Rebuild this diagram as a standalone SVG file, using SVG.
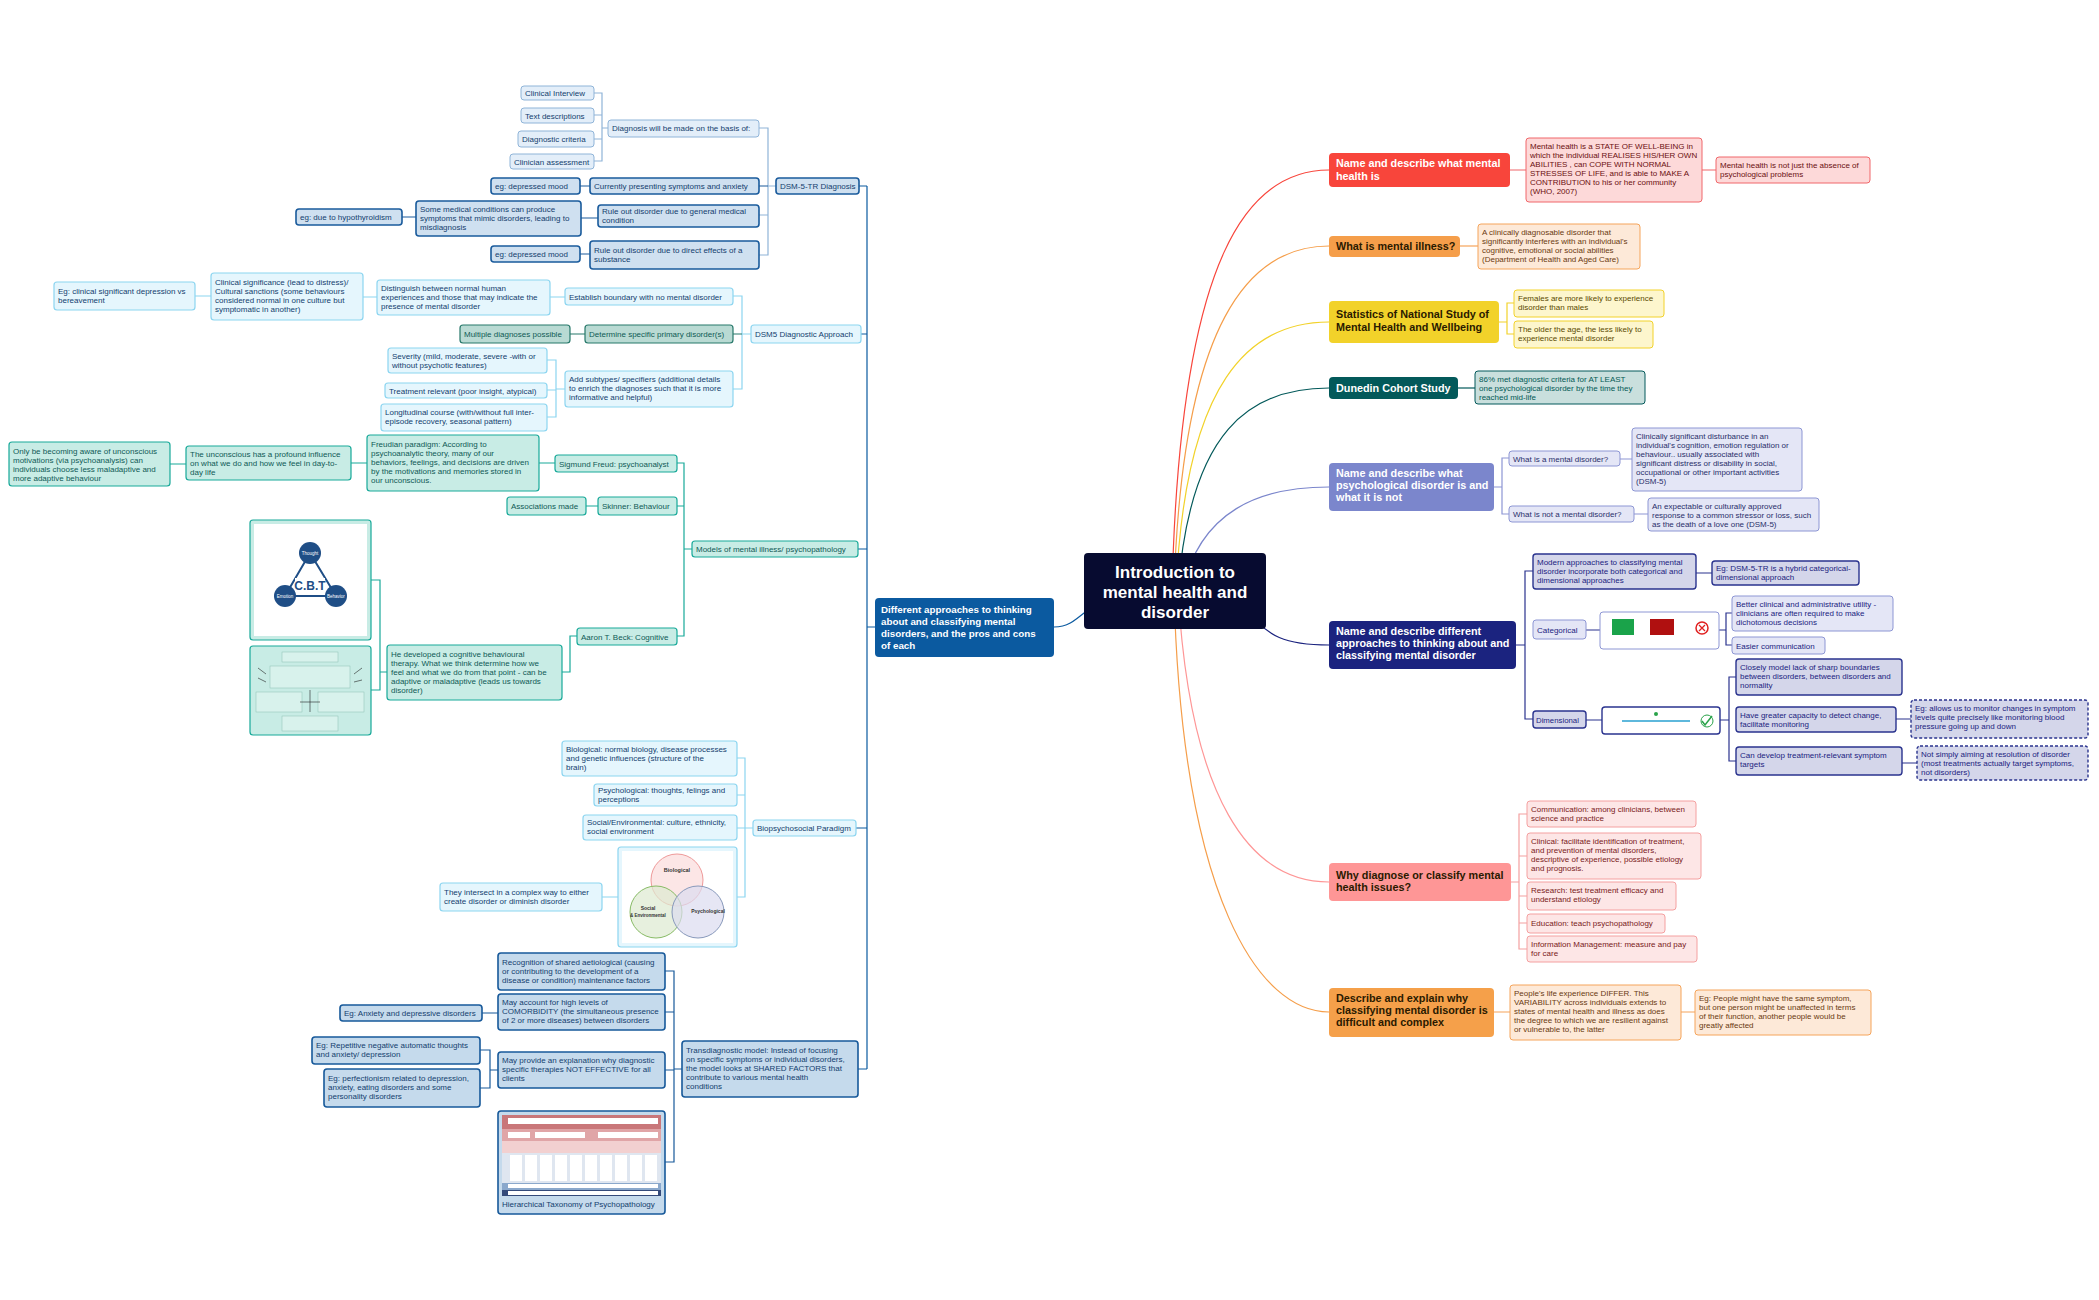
<svg xmlns="http://www.w3.org/2000/svg" width="2099" height="1300" viewBox="0 0 2099 1300">
<style>
text{font-family:"Liberation Sans",Arial,sans-serif;font-size:8px}
.c{fill:none;stroke-width:1.2}
.b1{fill:#cfe0f0;stroke:#1a5b9c;stroke-width:1.6}
.b2{fill:#e3eef9;stroke:#8fb4d8;stroke-width:1}
.tb{fill:#133e6e}
.cy{fill:#e5f6fd;stroke:#8cd5f0;stroke-width:1.2}
.gt{fill:#b9dad3;stroke:#27786a;stroke-width:1.2}
.tt{fill:#0f5a55}
.te{fill:#c8ece5;stroke:#18a999;stroke-width:1.2}
.tr{fill:#c5daec;stroke:#17599a;stroke-width:1.6}
.mainw{font-size:10.8px;font-weight:bold;fill:#fff}
.maind{font-size:10.8px;font-weight:bold;fill:#2a1a00}
.rc{fill:#fdd9d9;stroke:#f0676a}
.oc{fill:#fde9d8;stroke:#f5a45a}
.yc{fill:#fdf6cd;stroke:#f2d22a}
.dc{fill:#c9dfdd;stroke:#03595a}
.pc{fill:#e4e6f6;stroke:#8d96d4}
.nc{fill:#d4d6ea;stroke:#2a338e;stroke-width:1.4}
.nd{fill:#d4d6ea;stroke:#2a338e;stroke-width:1.4;stroke-dasharray:3 2}
.kc{fill:#fde6e6;stroke:#f4a0a0}
</style>
<rect width="2099" height="1300" fill="#fff"/>
<g id="connectors">
<path class="c" stroke="#f8453b" stroke-width="1.6" d="M1172,591 C1180,250 1250,170 1329,170"/>
<path class="c" stroke="#f59e4a" stroke-width="1.6" d="M1174,591 C1182,320 1250,246 1329,246"/>
<path class="c" stroke="#f2d22a" stroke-width="1.6" d="M1176,591 C1185,380 1250,322 1329,322"/>
<path class="c" stroke="#03595a" stroke-width="1.6" d="M1178,591 C1190,430 1250,388 1329,388"/>
<path class="c" stroke="#7b86cc" stroke-width="1.6" d="M1182,591 C1200,510 1260,487 1329,487"/>
<path class="c" stroke="#1b237f" stroke-width="1.8" d="M1240,600 C1265,640 1290,645 1329,645"/>
<path class="c" stroke="#fe9696" stroke-width="1.6" d="M1178,591 C1190,800 1250,882 1329,882"/>
<path class="c" stroke="#f59e4a" stroke-width="1.6" d="M1174,591 C1182,900 1260,1012 1329,1012"/>
<path class="c" stroke="#0b5aa0" stroke-width="1.8" d="M1100,600 C1075,620 1070,627 1054,627"/>
<path class="c" stroke="#f0676a" d="M1510,170 H1526 M1700,170 H1716"/>
<path class="c" stroke="#f5a45a" d="M1460,246 H1478"/>
<path class="c" stroke="#f2d22a" d="M1499,322 H1507 M1514,303 H1507 V334 H1514"/>
<path class="c" stroke="#03595a" d="M1458,388 H1475"/>
<path class="c" stroke="#8d96d4" d="M1494,487 H1502 M1509,458 H1502 V514 H1509 M1620,459 H1632 M1634,514 H1648"/>
<path class="c" stroke="#2a338e" d="M1516,645 H1525 M1533,571 H1525 V719 H1533 M1696,573 H1712 M1586,630 H1600 M1719,630 H1726 M1732,613 H1726 V645 H1732 M1586,720 H1602 M1720,720 H1729 M1736,677 H1729 V761 H1736 M1896,719 H1911 M1902,763 H1917"/>
<path class="c" stroke="#f4a0a0" d="M1511,882 H1519 M1527,814 H1519 V949 H1527 M1519,856 H1527 M1519,896 H1527 M1519,923 H1527"/>
<path class="c" stroke="#f5a45a" d="M1494,1012 H1510 M1681,1012 H1695"/>
<path class="c" stroke="#0b5aa0" stroke-width="1.4" d="M867,186 V1069 M859,186 H867 M861,334 H867 M858,549 H867 M856,828 H867 M858,1069 H867 M875,627 H867"/>
<path class="c" stroke="#8fb4d8" d="M776,186 H768 M759,128 H768 V255 H759 M759,215 H768 M608,128 H602 M594,93 H602 V161 H594 M594,115 H602 M594,139 H602"/>
<path class="c" stroke="#1a5b9c" d="M580,186 H590 M581,218 H598 M402,217 H416 M580,254 H590 M759,186 H768"/>
<path class="c" stroke="#8cd5f0" d="M751,334 H742 M733,296 H742 V389 H733 M550,297 H565 M363,297 H377 M195,296 H211 M565,389 H556 M547,360 H556 V417 H547 M547,390 H556"/>
<path class="c" stroke="#27786a" d="M733,334 H742 M570,334 H585"/>
<path class="c" stroke="#18a999" d="M692,549 H684 M677,463 H684 V636 H677 M677,506 H684 M539,463 H555 M351,463 H367 M170,464 H186 M586,506 H598 M577,636 H570 V672 H562 M387,672 H380 M371,580 H380 V690 H371"/>
<path class="c" stroke="#8cd5f0" d="M753,828 H745 M737,758 H745 V897 H737 M737,795 H745 M737,828 H745 M602,897 H618"/>
<path class="c" stroke="#17599a" d="M682,1069 H674 M665,971 H674 V1162 H665 M665,1012 H674 M665,1070 H674 M482,1013 H498 M498,1070 H490 M480,1050 H490 V1088 H480"/>
</g>

<g id="central"><rect x="1084" y="553" width="182" height="76" rx="4" fill="#070b30"/>
<text x="1175" text-anchor="middle" font-weight="bold" fill="#fff" style="font-size:17px"><tspan x="1175" y="578">Introduction to</tspan><tspan x="1175" y="598">mental health and</tspan><tspan x="1175" y="618">disorder</tspan></text></g>

<g id="n_diffapp"><rect x="875" y="598" width="179" height="59" rx="4" fill="#0b5aa0"/>
<text class="mainw" style="font-size:9.8px"><tspan x="881" y="613">Different approaches to thinking</tspan><tspan x="881" y="625">about and classifying mental</tspan><tspan x="881" y="637">disorders, and the pros and cons</tspan><tspan x="881" y="649">of each</tspan></text></g>

<g id="n_dsmtr"><rect class="b1" x="776" y="178" width="83" height="16" rx="3"/><text class="tb" x="780" y="189">DSM-5-TR Diagnosis</text></g>
<g id="n_basis"><rect class="b2" x="608" y="120" width="151" height="17" rx="3"/><text class="tb" x="612" y="131">Diagnosis will be made on the basis of:</text></g>
<g id="n_ci"><rect class="b2" x="521" y="86" width="73" height="14" rx="3"/><text class="tb" x="525" y="96">Clinical Interview</text></g>
<g id="n_td"><rect class="b2" x="521" y="108" width="73" height="15" rx="3"/><text class="tb" x="525" y="118.5">Text descriptions</text></g>
<g id="n_dc"><rect class="b2" x="518" y="131" width="76" height="16" rx="3"/><text class="tb" x="522" y="142">Diagnostic criteria</text></g>
<g id="n_ca"><rect class="b2" x="510" y="154" width="84" height="15" rx="3"/><text class="tb" x="514" y="164.5">Clinician assessment</text></g>
<g id="n_curr"><rect class="b1" x="590" y="178" width="169" height="16" rx="3"/><text class="tb" x="594" y="189">Currently presenting symptoms and anxiety</text></g>
<g id="n_dep1"><rect class="b1" x="491" y="178" width="89" height="16" rx="3"/><text class="tb" x="495" y="189">eg: depressed mood</text></g>
<g id="n_rgen"><rect class="b1" x="598" y="205" width="161" height="22" rx="3"/><text class="tb"><tspan x="602" y="214">Rule out disorder due to general medical</tspan><tspan x="602" y="223">condition</tspan></text></g>
<g id="n_some"><rect class="b1" x="416" y="201" width="165" height="35" rx="3"/><text class="tb"><tspan x="420" y="212">Some medical conditions can produce</tspan><tspan x="420" y="221">symptoms that mimic disorders, leading to</tspan><tspan x="420" y="230">misdiagnosis</tspan></text></g>
<g id="n_hypo"><rect class="b1" x="296" y="209" width="106" height="16" rx="3"/><text class="tb" x="300" y="220">eg: due to hypothyroidism</text></g>
<g id="n_rdir"><rect class="b1" x="590" y="241" width="169" height="28" rx="3"/><text class="tb"><tspan x="594" y="253">Rule out disorder due to direct effects of a</tspan><tspan x="594" y="262">substance</tspan></text></g>
<g id="n_dep2"><rect class="b1" x="491" y="246" width="89" height="16" rx="3"/><text class="tb" x="495" y="257">eg: depressed mood</text></g>

<g id="n_dsm5"><rect class="cy" x="751" y="325" width="110" height="18" rx="3"/><text class="tb" x="755" y="337">DSM5 Diagnostic Approach</text></g>
<g id="n_estab"><rect class="cy" x="565" y="288" width="168" height="17" rx="3"/><text class="tb" x="569" y="299.5">Establish boundary with no mental disorder</text></g>
<g id="n_dist"><rect class="cy" x="377" y="280" width="173" height="35" rx="3"/><text class="tb"><tspan x="381" y="291">Distinguish between normal human</tspan><tspan x="381" y="300">experiences and those that may indicate the</tspan><tspan x="381" y="309">presence of mental disorder</tspan></text></g>
<g id="n_clinsig"><rect class="cy" x="211" y="273" width="152" height="47" rx="3"/><text class="tb"><tspan x="215" y="285">Clinical significance (lead to distress)/</tspan><tspan x="215" y="294">Cultural sanctions (some behaviours</tspan><tspan x="215" y="303">considered normal in one culture but</tspan><tspan x="215" y="312">symptomatic in another)</tspan></text></g>
<g id="n_egclin"><rect class="cy" x="54" y="282" width="141" height="28" rx="3"/><text class="tb"><tspan x="58" y="294">Eg: clinical significant depression vs</tspan><tspan x="58" y="303">bereavement</tspan></text></g>
<g id="n_determine"><rect class="gt" x="585" y="325" width="148" height="18" rx="3"/><text class="tt" x="589" y="337">Determine specific primary disorder(s)</text></g>
<g id="n_multi"><rect class="gt" x="460" y="325" width="110" height="18" rx="3"/><text class="tt" x="464" y="337">Multiple diagnoses possible</text></g>
<g id="n_addsub"><rect class="cy" x="565" y="371" width="168" height="36" rx="3"/><text class="tb"><tspan x="569" y="382">Add subtypes/ specifiers (additional details</tspan><tspan x="569" y="391">to enrich the diagnoses such that it is more</tspan><tspan x="569" y="400">informative and helpful)</tspan></text></g>
<g id="n_sev"><rect class="cy" x="388" y="348" width="159" height="25" rx="3"/><text class="tb"><tspan x="392" y="359">Severity (mild, moderate, severe -with or</tspan><tspan x="392" y="368">without psychotic features)</tspan></text></g>
<g id="n_treat"><rect class="cy" x="385" y="383" width="162" height="15" rx="3"/><text class="tb" x="389" y="393.5">Treatment relevant (poor insight, atypical)</text></g>
<g id="n_long"><rect class="cy" x="381" y="404" width="166" height="27" rx="3"/><text class="tb"><tspan x="385" y="415">Longitudinal course (with/without full inter-</tspan><tspan x="385" y="424">episode recovery, seasonal pattern)</tspan></text></g>

<g id="n_models"><rect class="te" x="692" y="541" width="166" height="16" rx="3" stroke-width="2"/><text class="tt" x="696" y="552">Models of mental illness/ psychopathology</text></g>
<g id="n_freud"><rect class="te" x="555" y="455" width="122" height="17" rx="3"/><text class="tt" x="559" y="466.5">Sigmund Freud: psychoanalyst</text></g>
<g id="n_freudp"><rect class="te" x="367" y="435" width="172" height="56" rx="3"/><text class="tt"><tspan x="371" y="447">Freudian paradigm: According to</tspan><tspan x="371" y="456">psychoanalytic theory, many of our</tspan><tspan x="371" y="465">behaviors, feelings, and decisions are driven</tspan><tspan x="371" y="474">by the motivations and memories stored in</tspan><tspan x="371" y="483">our unconscious.</tspan></text></g>
<g id="n_uncon"><rect class="te" x="186" y="446" width="165" height="34" rx="3"/><text class="tt"><tspan x="190" y="457">The unconscious has a profound influence</tspan><tspan x="190" y="466">on what we do and how we feel in day-to-</tspan><tspan x="190" y="475">day life</tspan></text></g>
<g id="n_only"><rect class="te" x="9" y="442" width="161" height="44" rx="3"/><text class="tt"><tspan x="13" y="454">Only be becoming aware of unconscious</tspan><tspan x="13" y="463">motivations (via psychoanalysis) can</tspan><tspan x="13" y="472">individuals choose less maladaptive and</tspan><tspan x="13" y="481">more adaptive behaviour</tspan></text></g>
<g id="n_skinner"><rect class="te" x="598" y="497" width="79" height="18" rx="3"/><text class="tt" x="602" y="509">Skinner: Behaviour</text></g>
<g id="n_assoc"><rect class="te" x="507" y="497" width="79" height="18" rx="3"/><text class="tt" x="511" y="509">Associations made</text></g>
<g id="n_beck"><rect class="te" x="577" y="628" width="100" height="17" rx="3"/><text class="tt" x="581" y="640">Aaron T. Beck: Cognitive</text></g>
<g id="n_hedev"><rect class="te" x="387" y="645" width="175" height="55" rx="3"/><text class="tt"><tspan x="391" y="657">He developed a cognitive behavioural</tspan><tspan x="391" y="666">therapy. What we think determine how we</tspan><tspan x="391" y="675">feel and what we do from that point - can be</tspan><tspan x="391" y="684">adaptive or maladaptive (leads us towards</tspan><tspan x="391" y="693">disorder)</tspan></text></g>
<g id="n_cbtimg"><rect class="te" x="250" y="520" width="121" height="120" rx="3"/><rect x="254" y="524" width="113" height="112" fill="#fff"/>
<path d="M310,553 L285,596 L336,596 Z" fill="none" stroke="#1f4e86" stroke-width="2"/>
<circle cx="310" cy="553" r="11" fill="#1f4e86"/><circle cx="285" cy="596" r="11" fill="#1f4e86"/><circle cx="336" cy="596" r="11" fill="#1f4e86"/>
<rect x="295" y="578" width="30" height="14" fill="#fff"/>
<text x="310" y="590" text-anchor="middle" style="font-size:12px;font-weight:bold;fill:#1f4e86">C.B.T</text>
<text x="310" y="555" text-anchor="middle" style="font-size:4.5px;fill:#fff">Thought</text>
<text x="285" y="598" text-anchor="middle" style="font-size:4.5px;fill:#fff">Emotion</text>
<text x="336" y="598" text-anchor="middle" style="font-size:4.5px;fill:#fff">Behavior</text></g>
<g id="n_abcimg"><rect class="te" x="250" y="646" width="121" height="89" rx="3"/>
<rect x="282" y="652" width="56" height="10" fill="#d8f2ec" stroke="#8bbfb5" stroke-width="0.5"/>
<rect x="270" y="666" width="80" height="22" fill="#d8f2ec" stroke="#8bbfb5" stroke-width="0.5"/>
<rect x="256" y="692" width="46" height="20" fill="#d8f2ec" stroke="#8bbfb5" stroke-width="0.5"/>
<rect x="318" y="692" width="46" height="20" fill="#d8f2ec" stroke="#8bbfb5" stroke-width="0.5"/>
<rect x="282" y="716" width="56" height="15" fill="#d8f2ec" stroke="#8bbfb5" stroke-width="0.5"/>
<path d="M258,668 l8,6 M258,678 l8,4 M362,668 l-8,6 M362,680 l-8,2 M310,690 v22 M300,702 h20" stroke="#222" stroke-width="0.6" fill="none"/></g>

<g id="n_bps"><rect class="cy" x="753" y="820" width="103" height="16" rx="3"/><text class="tb" x="757" y="831">Biopsychosocial Paradigm</text></g>
<g id="n_bio"><rect class="cy" x="562" y="741" width="175" height="35" rx="3"/><text class="tb"><tspan x="566" y="752">Biological: normal biology, disease processes</tspan><tspan x="566" y="761">and genetic influences (structure of the</tspan><tspan x="566" y="770">brain)</tspan></text></g>
<g id="n_psy"><rect class="cy" x="594" y="784" width="143" height="22" rx="3"/><text class="tb"><tspan x="598" y="793">Psychological: thoughts, felings and</tspan><tspan x="598" y="802">perceptions</tspan></text></g>
<g id="n_soc"><rect class="cy" x="583" y="815" width="154" height="25" rx="3"/><text class="tb"><tspan x="587" y="825">Social/Environmental: culture, ethnicity,</tspan><tspan x="587" y="834">social environment</tspan></text></g>
<g id="n_venn"><rect class="cy" x="618" y="847" width="119" height="100" rx="3"/><rect x="622" y="851" width="111" height="92" fill="#fff"/>
<circle cx="677" cy="880" r="26" fill="#fbdcdc" fill-opacity="0.7" stroke="#e99"/>
<circle cx="656" cy="912" r="26" fill="#dde9d0" fill-opacity="0.7" stroke="#8b6"/>
<circle cx="698" cy="912" r="26" fill="#dbdcf0" fill-opacity="0.7" stroke="#89b"/>
<text x="677" y="872" text-anchor="middle" style="font-size:5.5px;font-weight:bold;fill:#333">Biological</text>
<text x="648" y="910" text-anchor="middle" style="font-size:5px;font-weight:bold;fill:#333">Social</text>
<text x="648" y="917" text-anchor="middle" style="font-size:4.5px;font-weight:bold;fill:#333">&amp; Environmental</text>
<text x="708" y="913" text-anchor="middle" style="font-size:5px;font-weight:bold;fill:#333">Psychological</text></g>
<g id="n_inter"><rect class="cy" x="440" y="883" width="162" height="28" rx="3"/><text class="tb"><tspan x="444" y="895">They intersect in a complex way to either</tspan><tspan x="444" y="904">create disorder or diminish disorder</tspan></text></g>

<g id="n_trans"><rect class="tr" x="682" y="1041" width="176" height="56" rx="3"/><text class="tb"><tspan x="686" y="1053">Transdiagnostic model: Instead of focusing</tspan><tspan x="686" y="1062">on specific symptoms or individual disorders,</tspan><tspan x="686" y="1071">the model looks at SHARED FACTORS that</tspan><tspan x="686" y="1080">contribute to various mental health</tspan><tspan x="686" y="1089">conditions</tspan></text></g>
<g id="n_recog"><rect class="tr" x="498" y="953" width="167" height="37" rx="3" stroke-width="1.2"/><text class="tb"><tspan x="502" y="965">Recognition of shared aetiological (causing</tspan><tspan x="502" y="974">or contributing to the development of a</tspan><tspan x="502" y="983">disease or condition) maintenance factors</tspan></text></g>
<g id="n_comor"><rect class="tr" x="498" y="994" width="167" height="36" rx="3" stroke-width="1.2"/><text class="tb"><tspan x="502" y="1005">May account for high levels of</tspan><tspan x="502" y="1014">COMORBIDITY (the simultaneous presence</tspan><tspan x="502" y="1023">of 2 or more diseases) between disorders</tspan></text></g>
<g id="n_anx"><rect class="tr" x="340" y="1005" width="142" height="16" rx="3" stroke-width="1.2"/><text class="tb" x="344" y="1016">Eg: Anxiety and depressive disorders</text></g>
<g id="n_expl"><rect class="tr" x="498" y="1052" width="167" height="36" rx="3" stroke-width="1.2"/><text class="tb"><tspan x="502" y="1063">May provide an explanation why diagnostic</tspan><tspan x="502" y="1072">specific therapies NOT EFFECTIVE for all</tspan><tspan x="502" y="1081">clients</tspan></text></g>
<g id="n_rep"><rect class="tr" x="312" y="1037" width="168" height="27" rx="3" stroke-width="1.2"/><text class="tb"><tspan x="316" y="1048">Eg: Repetitive negative automatic thoughts</tspan><tspan x="316" y="1057">and anxiety/ depression</tspan></text></g>
<g id="n_perf"><rect class="tr" x="324" y="1069" width="156" height="38" rx="3" stroke-width="1.2"/><text class="tb"><tspan x="328" y="1081">Eg: perfectionism related to depression,</tspan><tspan x="328" y="1090">anxiety, eating disorders and some</tspan><tspan x="328" y="1099">personality disorders</tspan></text></g>
<g id="n_hitop"><rect class="tr" x="498" y="1111" width="167" height="103" rx="3" stroke-width="1.2"/>
<rect x="502" y="1115" width="159" height="14" fill="#c9777a"/><rect x="502" y="1129" width="159" height="12" fill="#e0a5a7"/><rect x="502" y="1141" width="159" height="12" fill="#f2d0d0"/><rect x="502" y="1153" width="159" height="30" fill="#dfe6f0"/><rect x="502" y="1183" width="159" height="7" fill="#8aa8cc"/><rect x="502" y="1190" width="159" height="6" fill="#344a7a"/>
<rect x="508" y="1118" width="150" height="6" fill="#fff"/><rect x="508" y="1132" width="22" height="6" fill="#fff"/><rect x="535" y="1132" width="50" height="6" fill="#fff"/><rect x="598" y="1132" width="60" height="6" fill="#fff"/>
<g fill="#fff"><rect x="510" y="1155" width="12" height="26"/><rect x="525" y="1155" width="12" height="26"/><rect x="540" y="1155" width="12" height="26"/><rect x="555" y="1155" width="12" height="26"/><rect x="570" y="1155" width="12" height="26"/><rect x="585" y="1155" width="12" height="26"/><rect x="600" y="1155" width="12" height="26"/><rect x="615" y="1155" width="12" height="26"/><rect x="630" y="1155" width="12" height="26"/><rect x="645" y="1155" width="12" height="26"/><rect x="508" y="1184" width="150" height="4"/><rect x="508" y="1191" width="150" height="4"/></g>
<text class="tb" x="502" y="1207">Hierarchical Taxonomy of Psychopathology</text></g>

<g id="n_mh"><rect x="1329" y="153" width="181" height="34" rx="4" fill="#f8453b"/><text class="mainw"><tspan x="1336" y="167">Name and describe what mental</tspan><tspan x="1336" y="180">health is</tspan></text></g>
<g id="n_mh1"><rect class="rc" x="1526" y="138" width="176" height="64" rx="3"/><text fill="#6b1010"><tspan x="1530" y="149">Mental health is a STATE OF WELL-BEING in</tspan><tspan x="1530" y="158">which the individual REALISES HIS/HER OWN</tspan><tspan x="1530" y="167">ABILITIES , can COPE WITH NORMAL</tspan><tspan x="1530" y="176">STRESSES OF LIFE, and is able to MAKE A</tspan><tspan x="1530" y="185">CONTRIBUTION to his or her community</tspan><tspan x="1530" y="194">(WHO, 2007)</tspan></text></g>
<g id="n_mh2"><rect class="rc" x="1716" y="157" width="154" height="26" rx="3"/><text fill="#6b1010"><tspan x="1720" y="168">Mental health is not just the absence of</tspan><tspan x="1720" y="177">psychological problems</tspan></text></g>
<g id="n_mi"><rect x="1329" y="236" width="131" height="21" rx="4" fill="#f59e4a"/><text class="maind" x="1336" y="250">What is mental illness?</text></g>
<g id="n_mi1"><rect class="oc" x="1478" y="224" width="162" height="45" rx="3"/><text fill="#6a3a10"><tspan x="1482" y="235">A clinically diagnosable disorder that</tspan><tspan x="1482" y="244">significantly interferes with an individual's</tspan><tspan x="1482" y="253">cognitive, emotional or social abilities</tspan><tspan x="1482" y="262">(Department of Health and Aged Care)</tspan></text></g>
<g id="n_stat"><rect x="1329" y="301" width="170" height="42" rx="4" fill="#f2d22a"/><text class="maind"><tspan x="1336" y="318">Statistics of National Study of</tspan><tspan x="1336" y="331">Mental Health and Wellbeing</tspan></text></g>
<g id="n_stat1"><rect class="yc" x="1514" y="290" width="150" height="27" rx="3"/><text fill="#5a4a00"><tspan x="1518" y="301">Females are more likely to experience</tspan><tspan x="1518" y="310">disorder than males</tspan></text></g>
<g id="n_stat2"><rect class="yc" x="1514" y="321" width="139" height="27" rx="3"/><text fill="#5a4a00"><tspan x="1518" y="332">The older the age, the less likely to</tspan><tspan x="1518" y="341">experience mental disorder</tspan></text></g>
<g id="n_dun"><rect x="1329" y="377" width="129" height="22" rx="4" fill="#03595a"/><text class="mainw" x="1336" y="392">Dunedin Cohort Study</text></g>
<g id="n_dun1"><rect class="dc" x="1475" y="371" width="170" height="33" rx="3"/><text fill="#035a55"><tspan x="1479" y="382">86% met diagnostic criteria for AT LEAST</tspan><tspan x="1479" y="391">one psychological disorder by the time they</tspan><tspan x="1479" y="400">reached mid-life</tspan></text></g>
<g id="n_pd"><rect x="1329" y="463" width="165" height="48" rx="4" fill="#7b86cc"/><text class="mainw"><tspan x="1336" y="477">Name and describe what</tspan><tspan x="1336" y="489">psychological disorder is and</tspan><tspan x="1336" y="501">what it is not</tspan></text></g>
<g id="n_pd1"><rect class="pc" x="1509" y="451" width="111" height="15" rx="3"/><text fill="#2a2f6a" x="1513" y="461.5">What is a mental disorder?</text></g>
<g id="n_pd1a"><rect class="pc" x="1632" y="428" width="170" height="63" rx="3"/><text fill="#2a2f6a"><tspan x="1636" y="439">Clinically significant disturbance in an</tspan><tspan x="1636" y="448">individual's cognition, emotion regulation or</tspan><tspan x="1636" y="457">behaviour.. usually associated with</tspan><tspan x="1636" y="466">significant distress or disability in social,</tspan><tspan x="1636" y="475">occupational or other important activities</tspan><tspan x="1636" y="484">(DSM-5)</tspan></text></g>
<g id="n_pd2"><rect class="pc" x="1509" y="506" width="125" height="16" rx="3"/><text fill="#2a2f6a" x="1513" y="517">What is not a mental disorder?</text></g>
<g id="n_pd2a"><rect class="pc" x="1648" y="498" width="171" height="33" rx="3"/><text fill="#2a2f6a"><tspan x="1652" y="509">An expectable or culturally approved</tspan><tspan x="1652" y="518">response to a common stressor or loss, such</tspan><tspan x="1652" y="527">as the death of a love one (DSM-5)</tspan></text></g>
<g id="n_ap"><rect x="1329" y="621" width="187" height="48" rx="4" fill="#1b237f"/><text class="mainw"><tspan x="1336" y="635">Name and describe different</tspan><tspan x="1336" y="647">approaches to thinking about and</tspan><tspan x="1336" y="659">classifying mental disorder</tspan></text></g>
<g id="n_modern"><rect class="nc" x="1533" y="554" width="163" height="35" rx="3"/><text fill="#1b237f"><tspan x="1537" y="565">Modern approaches to classifying mental</tspan><tspan x="1537" y="574">disorder incorporate both categorical and</tspan><tspan x="1537" y="583">dimensional approaches</tspan></text></g>
<g id="n_egdsm"><rect class="nc" x="1712" y="561" width="147" height="24" rx="3"/><text fill="#1b237f"><tspan x="1716" y="571">Eg: DSM-5-TR is a hybrid categorical-</tspan><tspan x="1716" y="580">dimensional approach</tspan></text></g>
<g id="n_cat"><rect class="pc" x="1533" y="620" width="53" height="19" rx="3"/><text fill="#1b237f" x="1537" y="632.5">Categorical</text></g>
<g id="n_catimg"><rect x="1600" y="612" width="119" height="37" rx="3" fill="#fff" stroke="#8d96d4"/><rect x="1612" y="619" width="22" height="16" fill="#1aa34a"/><rect x="1650" y="619" width="24" height="16" fill="#b01010"/><circle cx="1702" cy="628" r="6" fill="#fff" stroke="#e02020" stroke-width="1.5"/><path d="M1699,625 l6,6 M1705,625 l-6,6" stroke="#e02020" stroke-width="1.3"/></g>
<g id="n_better"><rect class="pc" x="1732" y="596" width="161" height="35" rx="3"/><text fill="#1b237f"><tspan x="1736" y="607">Better clinical and administrative utility -</tspan><tspan x="1736" y="616">clinicians are often required to make</tspan><tspan x="1736" y="625">dichotomous decisions</tspan></text></g>
<g id="n_easier"><rect class="pc" x="1732" y="637" width="93" height="17" rx="3"/><text fill="#1b237f" x="1736" y="648.5">Easier communication</text></g>
<g id="n_dim"><rect class="nc" x="1533" y="711" width="53" height="17" rx="3"/><text fill="#1b237f" x="1536" y="722.5" style="font-size:7.8px">Dimensional</text></g>
<g id="n_dimimg"><rect x="1602" y="707" width="118" height="27" rx="3" fill="#fff" stroke="#2a338e" stroke-width="1.4"/><path d="M1622,721 H1690" stroke="#29a0d0" stroke-width="1.5"/><circle cx="1656" cy="714" r="2" fill="#2aa34a"/><path d="M1702,721 l3,4 l7,-9" stroke="#2aa34a" stroke-width="1.5" fill="none"/><circle cx="1707" cy="721" r="6" fill="none" stroke="#2aa34a"/></g>
<g id="n_closely"><rect class="nc" x="1736" y="659" width="166" height="36" rx="3"/><text fill="#1b237f"><tspan x="1740" y="670">Closely model lack of sharp boundaries</tspan><tspan x="1740" y="679">between disorders, between disorders and</tspan><tspan x="1740" y="688">normality</tspan></text></g>
<g id="n_have"><rect class="nc" x="1736" y="707" width="160" height="25" rx="3"/><text fill="#1b237f"><tspan x="1740" y="718">Have greater capacity to detect change,</tspan><tspan x="1740" y="727">facilitate monitoring</tspan></text></g>
<g id="n_egallows"><rect class="nd" x="1911" y="700" width="177" height="38" rx="3"/><text fill="#1b237f"><tspan x="1915" y="711">Eg: allows us to monitor changes in symptom</tspan><tspan x="1915" y="720">levels quite precisely like monitoring blood</tspan><tspan x="1915" y="729">pressure going up and down</tspan></text></g>
<g id="n_can"><rect class="nc" x="1736" y="747" width="166" height="28" rx="3"/><text fill="#1b237f"><tspan x="1740" y="758">Can develop treatment-relevant symptom</tspan><tspan x="1740" y="767">targets</tspan></text></g>
<g id="n_notsimply"><rect class="nd" x="1917" y="746" width="171" height="34" rx="3"/><text fill="#1b237f"><tspan x="1921" y="757">Not simply aiming at resolution of disorder</tspan><tspan x="1921" y="766">(most treatments actually target symptoms,</tspan><tspan x="1921" y="775">not disorders)</tspan></text></g>
<g id="n_why"><rect x="1329" y="863" width="182" height="38" rx="4" fill="#fe9696"/><text class="maind"><tspan x="1336" y="879">Why diagnose or classify mental</tspan><tspan x="1336" y="891">health issues?</tspan></text></g>
<g id="n_comm"><rect class="kc" x="1527" y="801" width="169" height="26" rx="3"/><text fill="#7a1a1a"><tspan x="1531" y="812">Communication: among clinicians, between</tspan><tspan x="1531" y="821">science and practice</tspan></text></g>
<g id="n_clin"><rect class="kc" x="1527" y="833" width="174" height="46" rx="3"/><text fill="#7a1a1a"><tspan x="1531" y="844">Clinical: facilitate identification of treatment,</tspan><tspan x="1531" y="853">and prevention of mental disorders,</tspan><tspan x="1531" y="862">descriptive of experience, possible etiology</tspan><tspan x="1531" y="871">and prognosis.</tspan></text></g>
<g id="n_res"><rect class="kc" x="1527" y="882" width="149" height="28" rx="3"/><text fill="#7a1a1a"><tspan x="1531" y="893">Research:  test treatment efficacy and</tspan><tspan x="1531" y="902">understand etiology</tspan></text></g>
<g id="n_edu"><rect class="kc" x="1527" y="914" width="138" height="19" rx="3"/><text fill="#7a1a1a" x="1531" y="926">Education: teach psychopathology</text></g>
<g id="n_info"><rect class="kc" x="1527" y="936" width="170" height="26" rx="3"/><text fill="#7a1a1a"><tspan x="1531" y="947">Information Management: measure and pay</tspan><tspan x="1531" y="956">for care</tspan></text></g>
<g id="n_desc"><rect x="1329" y="988" width="165" height="49" rx="4" fill="#f5a04a"/><text class="maind"><tspan x="1336" y="1002">Describe and explain why</tspan><tspan x="1336" y="1014">classifying mental disorder is</tspan><tspan x="1336" y="1026">difficult and complex</tspan></text></g>
<g id="n_desc1"><rect class="oc" x="1510" y="985" width="171" height="55" rx="3"/><text fill="#6a3a10"><tspan x="1514" y="996">People's life experience DIFFER. This</tspan><tspan x="1514" y="1005">VARIABILITY across individuals extends to</tspan><tspan x="1514" y="1014">states of mental health and illness as does</tspan><tspan x="1514" y="1023">the degree to which we are resilient against</tspan><tspan x="1514" y="1032">or vulnerable to, the latter</tspan></text></g>
<g id="n_desc2"><rect class="oc" x="1695" y="990" width="176" height="45" rx="3"/><text fill="#6a3a10"><tspan x="1699" y="1001">Eg: People might have the same symptom,</tspan><tspan x="1699" y="1010">but one person might be unaffected in terms</tspan><tspan x="1699" y="1019">of their function, another people would be</tspan><tspan x="1699" y="1028">greatly affected</tspan></text></g>
</svg>
